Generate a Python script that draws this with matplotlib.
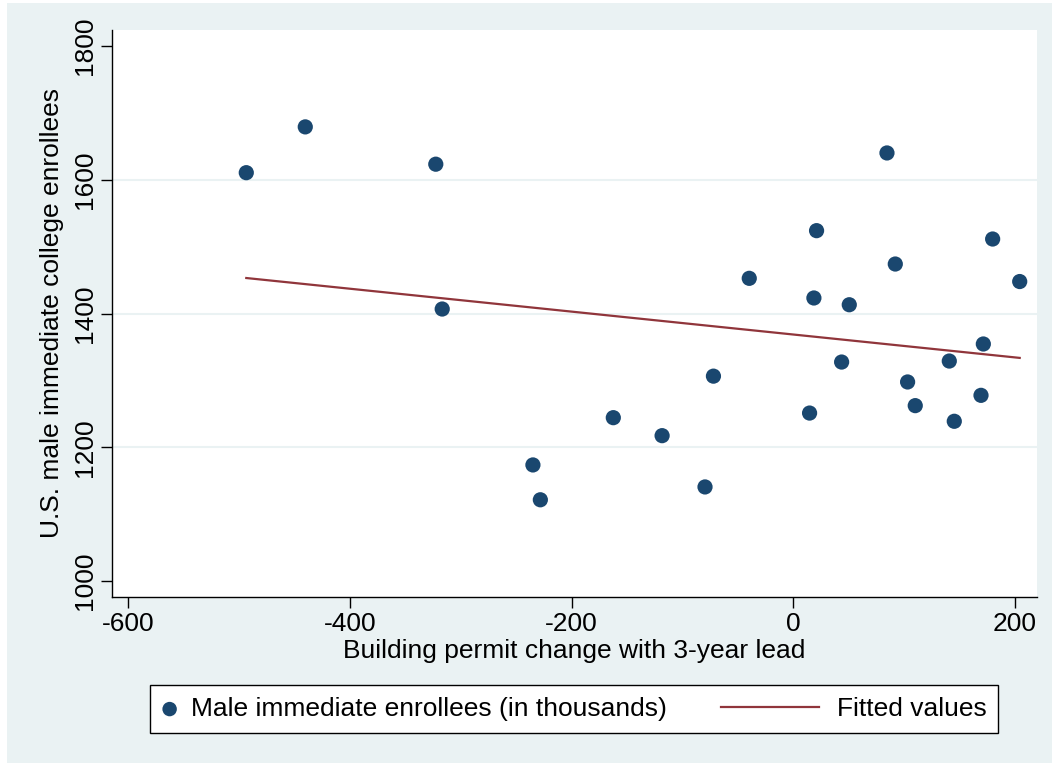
import matplotlib
matplotlib.use("Agg")
import matplotlib.pyplot as plt
from matplotlib.patches import Rectangle
from matplotlib.lines import Line2D
from matplotlib.legend_handler import HandlerBase
import numpy as np

plt.rcParams['font.family'] = ['Liberation Sans', 'DejaVu Sans']

# building permit change (3-year lead) vs male immediate enrollees
permit_change = [-493.3, -440.1, -322.4, -316.6, -234.8, -228.1, -162.3, -118.3,
                 -79.6, -72.0, -39.7, 14.7, 18.6, 21.0, 43.6, 50.5, 84.5, 92.0,
                 103.1, 110.0, 140.7, 145.2, 169.3, 171.4, 179.8, 204.2]
enrollees = [1610.6, 1679.1, 1623.3, 1406.7, 1173.5, 1121.4, 1244.2, 1217.3,
             1140.6, 1306.3, 1452.6, 1251.1, 1423.2, 1523.9, 1327.4, 1413.1,
             1640.1, 1474.0, 1297.6, 1262.2, 1328.9, 1238.8, 1277.6, 1354.4,
             1511.4, 1447.8]

x_ticks = [-600, -400, -200, 0, 200]
y_ticks = [1000, 1200, 1400, 1600, 1800]

bg = '#eaf2f3'
navy = '#1a476f'
maroon = '#90353b'


class LongLineHandler(HandlerBase):
    # longer line key that reaches back into the column gap
    def create_artists(self, legend, orig_handle, xdescent, ydescent,
                       width, height, fontsize, trans):
        x1 = width - 2.9
        x0 = x1 - 70.6
        yc = height / 2 - ydescent
        ln = Line2D([x0, x1], [yc, yc], color=orig_handle.get_color(),
                    lw=orig_handle.get_linewidth())
        ln.set_transform(trans)
        return [ln]


fig = plt.figure(figsize=(10.52, 7.63), dpi=100, facecolor='white')
fig.patches.append(Rectangle((7 / 1052, 0), 1, 1 - 3 / 763, transform=fig.transFigure,
                             facecolor=bg, edgecolor='none', zorder=-10))

ax = fig.add_axes([112 / 1052, 1 - 597 / 763, 925 / 1052, 567 / 763])
ax.set_facecolor('white')

x = np.array(permit_change)
y = np.array(enrollees)
slope, intercept = np.polyfit(x, y, 1)
xs = np.array([x.min(), x.max()])

for v in y_ticks[1:-1]:
    ax.axhline(v, color=bg, lw=1.5, zorder=1)

sc = ax.scatter(x, y, s=120, color=navy, edgecolors='none', zorder=3,
                label='Male immediate enrollees (in thousands)')
fit, = ax.plot(xs, intercept + slope * xs, color=maroon, lw=1.6, zorder=2,
               label='Fitted values')

ax.set_xlim(-614.4, 219.8)
ax.set_ylim(976, 1824)
ax.set_xticks(x_ticks)
ax.set_yticks(y_ticks)
ax.set_xticklabels([str(t) for t in x_ticks], fontsize=19)
ax.set_yticklabels([str(t) for t in y_ticks], fontsize=19, rotation=90, va='center')
ax.tick_params(length=8, width=1, color='black', pad=3)

for side in ['top', 'right']:
    ax.spines[side].set_visible(False)
for side in ['left', 'bottom']:
    ax.spines[side].set_linewidth(1)
    ax.spines[side].set_color('black')

ax.set_xlabel('Building permit change with 3-year lead', fontsize=19, labelpad=2)
ax.set_ylabel('U.S. male immediate college enrollees', fontsize=19, labelpad=6)

leg = fig.legend([sc, fit], [sc.get_label(), fit.get_label()],
                 handler_map={fit: LongLineHandler()},
                 loc='center', bbox_to_anchor=(574 / 1052, 1 - 709 / 763), ncol=2,
                 fontsize=19, frameon=True, fancybox=False, edgecolor='black',
                 framealpha=1, facecolor='white', scatterpoints=1,
                 handlelength=0.6, columnspacing=5.34, handletextpad=0.5,
                 borderpad=0.45, markerscale=0.95)
leg.get_frame().set_linewidth(1)

fig.savefig('out.png', dpi=100, facecolor=fig.get_facecolor())
